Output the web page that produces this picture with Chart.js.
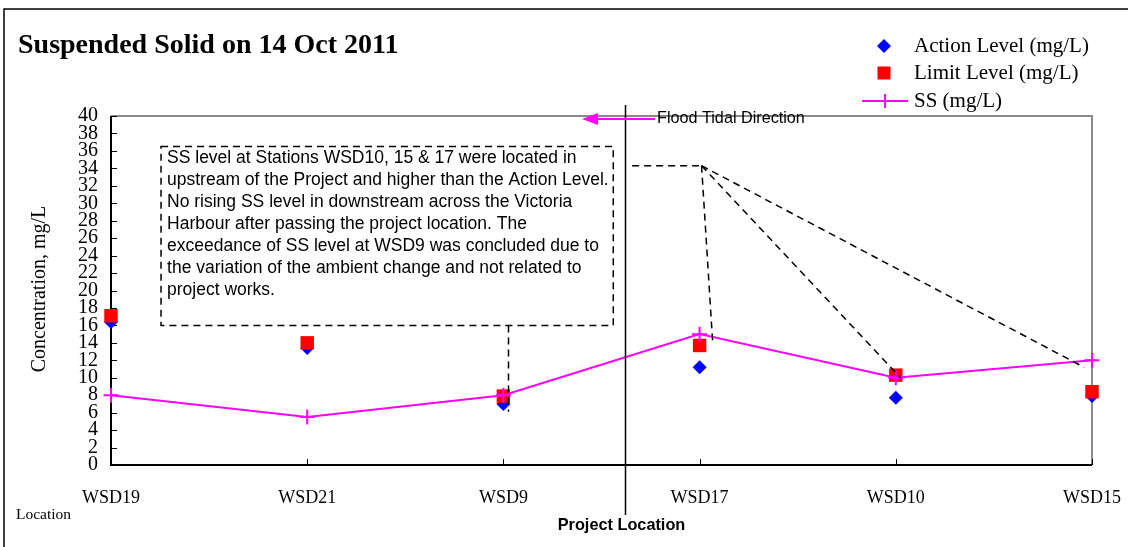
<!DOCTYPE html>
<html>
<head>
<meta charset="utf-8">
<script src="https://cdn.jsdelivr.net/npm/chart.js@4/dist/chart.umd.min.js"></script>
<style>
  html, body { margin: 0; padding: 0; background: #fff; }
  #wrap { width: 1128px; height: 547px; position: relative; }
</style>
</head>
<body>
<div id="wrap"><canvas id="c" width="1128" height="547"></canvas></div>
<script>
// ---- data ----
const categories = ['WSD19', 'WSD21', 'WSD9', 'WSD17', 'WSD10', 'WSD15'];
const actionLevel = [16.4, 13.4, 7.0, 11.2, 7.7, 7.9];
const limitLevel  = [17.1, 14.0, 7.9, 13.7, 10.3, 8.4];
const ssLevel     = [8.0, 5.5, 8.0, 15.0, 10.0, 12.0];
const yMin = 0, yMax = 40, yStep = 2;

const seriesNames = ['Action Level (mg/L)', 'Limit Level (mg/L)', 'SS (mg/L)'];
const titleText = 'Suspended Solid on 14 Oct 2011';
const yTitle = 'Concentration, mg/L';
const noteLines = [
  'SS level at Stations WSD10, 15 & 17 were located in',
  'upstream of the Project and higher than the Action Level.',
  'No rising SS level in downstream across the Victoria',
  'Harbour after passing the project location. The',
  'exceedance of SS level at WSD9 was concluded due to',
  'the variation of the ambient change and not related to',
  'project works.'
];

const BLUE = '#0000FF', RED = '#FF0000', MAG = '#FF00FF';
const SERIF = '"Liberation Serif", "Times New Roman", serif';
const SANS = '"Liberation Sans", Arial, sans-serif';

// annotation anchors in data units (category index, value)
const projectX = 2.62;
const noteBox = { x0: 0.255, x1: 2.56, yTop: 36.5, yBot: 16.0 };
const callWSD9 = { x: 2.026, yTop: 16.0, yBot: 6.1 };
const callHub = { x0: 2.656, x: 3.01, y: 34.3 };
const callTargets = [[3.066, 14.3], [4.026, 9.95], [4.96, 11.2]];

const overlay = {
  id: 'overlay',
  beforeDatasetsDraw(chart) {
    const ctx = chart.ctx, a = chart.chartArea;
    const xs = chart.scales.x, ys = chart.scales.y;
    ctx.save();
    // outer frame
    ctx.strokeStyle = '#000'; ctx.lineWidth = 1.5;
    ctx.beginPath(); ctx.moveTo(4, 547); ctx.lineTo(4, 9); ctx.lineTo(1128, 9); ctx.stroke();
    // plot frame top/right (gray)
    ctx.strokeStyle = '#8a8a8a'; ctx.lineWidth = 2;
    ctx.beginPath(); ctx.moveTo(a.left, a.top); ctx.lineTo(a.right, a.top); ctx.lineTo(a.right, a.bottom); ctx.stroke();
    // axes left/bottom (black)
    ctx.strokeStyle = '#000'; ctx.lineWidth = 2;
    ctx.beginPath(); ctx.moveTo(a.left, a.top); ctx.lineTo(a.left, a.bottom); ctx.lineTo(a.right, a.bottom); ctx.stroke();
    // inside ticks
    ctx.lineWidth = 1;
    ctx.beginPath();
    ys.ticks.forEach((t) => {
      const y = Math.round(ys.getPixelForValue(t.value)) + 0.5;
      ctx.moveTo(a.left, y); ctx.lineTo(a.left + 6, y);
    });
    xs.ticks.forEach((t, i) => {
      const x = Math.round(xs.getPixelForTick(i)) + 0.5;
      ctx.moveTo(x, a.bottom); ctx.lineTo(x, a.bottom - 6);
    });
    ctx.stroke();
    ctx.restore();
  },
  afterDatasetsDraw(chart) {
    const ctx = chart.ctx, a = chart.chartArea;
    const xs = chart.scales.x, ys = chart.scales.y;
    const X = (v) => xs.getPixelForValue(v), Y = (v) => ys.getPixelForValue(v);
    ctx.save();
    // dashed note box
    ctx.strokeStyle = '#000'; ctx.lineWidth = 1.5; ctx.setLineDash([7, 5]);
    const bx0 = X(noteBox.x0), bx1 = X(noteBox.x1), by0 = Y(noteBox.yTop), by1 = Y(noteBox.yBot);
    ctx.strokeRect(bx0, by0, bx1 - bx0, by1 - by0);
    // callout to WSD9
    ctx.beginPath(); ctx.moveTo(X(callWSD9.x), Y(callWSD9.yTop)); ctx.lineTo(X(callWSD9.x), Y(callWSD9.yBot)); ctx.stroke();
    // callouts to WSD17/10/15
    ctx.beginPath(); ctx.moveTo(X(callHub.x0), Y(callHub.y)); ctx.lineTo(X(callHub.x), Y(callHub.y)); ctx.stroke();
    callTargets.forEach(([tx, ty]) => {
      ctx.beginPath(); ctx.moveTo(X(callHub.x), Y(callHub.y)); ctx.lineTo(X(tx), Y(ty)); ctx.stroke();
    });
    ctx.setLineDash([]);
    // note text
    ctx.fillStyle = '#000'; ctx.font = '17.5px ' + SANS; ctx.textAlign = 'left'; ctx.textBaseline = 'middle';
    noteLines.forEach((l, i) => ctx.fillText(l, bx0 + 6, by0 + 12 + i * 22));
    // project location line
    const px = Math.round(X(projectX)) + 0.5;
    ctx.strokeStyle = '#000'; ctx.lineWidth = 1.5;
    ctx.beginPath(); ctx.moveTo(px, a.top - 11); ctx.lineTo(px, 515); ctx.stroke();
    ctx.font = 'bold 16.3px ' + SANS; ctx.textAlign = 'center';
    ctx.fillText('Project Location', px - 4, 526);
    // flood tidal direction arrow
    ctx.strokeStyle = MAG; ctx.fillStyle = MAG; ctx.lineWidth = 2;
    ctx.beginPath(); ctx.moveTo(655, a.top + 3); ctx.lineTo(594, a.top + 3); ctx.stroke();
    ctx.beginPath(); ctx.moveTo(582, a.top + 3); ctx.lineTo(598, a.top - 3); ctx.lineTo(598, a.top + 9); ctx.closePath(); ctx.fill();
    ctx.fillStyle = '#000'; ctx.font = '16.2px ' + SANS; ctx.textAlign = 'left';
    ctx.fillText('Flood Tidal Direction', 657, a.top + 3);
    ctx.restore();
  },
  afterDraw(chart) {
    const ctx = chart.ctx;
    ctx.save();
    ctx.fillStyle = '#000';
    // title
    ctx.font = 'bold 28px ' + SERIF; ctx.textAlign = 'left'; ctx.textBaseline = 'alphabetic';
    ctx.fillText(titleText, 18, 53);
    // y axis title
    ctx.save();
    ctx.translate(40, 289); ctx.rotate(-Math.PI / 2);
    ctx.font = '20px ' + SERIF; ctx.textAlign = 'center'; ctx.textBaseline = 'middle';
    ctx.fillText(yTitle, 0, 0);
    ctx.restore();
    // "Location"
    ctx.font = '15.5px ' + SERIF; ctx.textAlign = 'left'; ctx.textBaseline = 'middle';
    ctx.fillText('Location', 16, 515);
    // legend
    const lx = 884, rows = [46, 73, 101];
    ctx.fillStyle = BLUE;
    ctx.beginPath(); ctx.moveTo(lx - 7, rows[0]); ctx.lineTo(lx, rows[0] - 7); ctx.lineTo(lx + 7, rows[0]); ctx.lineTo(lx, rows[0] + 7); ctx.closePath(); ctx.fill();
    ctx.fillStyle = RED; ctx.fillRect(lx - 6.5, rows[1] - 6.5, 13, 13);
    ctx.strokeStyle = MAG; ctx.lineWidth = 2;
    ctx.beginPath(); ctx.moveTo(862, rows[2]); ctx.lineTo(908, rows[2]);
    ctx.moveTo(885, rows[2] - 7); ctx.lineTo(885, rows[2] + 7); ctx.stroke();
    ctx.fillStyle = '#000'; ctx.font = '21px ' + SERIF; ctx.textBaseline = 'middle';
    seriesNames.forEach((n, i) => ctx.fillText(n, 914, rows[i]));
    ctx.restore();
  }
};

new Chart(document.getElementById('c'), {
  type: 'line',
  data: {
    labels: categories,
    datasets: [
      { label: seriesNames[2], data: ssLevel, borderColor: MAG, backgroundColor: MAG, borderWidth: 2,
        pointStyle: 'cross', pointRadius: 7.5, pointBorderWidth: 2, pointBorderColor: MAG, tension: 0, order: 0, clip: false },
      { label: seriesNames[1], data: limitLevel, showLine: false, pointStyle: 'rect', pointRadius: 9.5,
        backgroundColor: RED, borderColor: RED, pointBorderWidth: 0, order: 1, clip: false },
      { label: seriesNames[0], data: actionLevel, showLine: false, pointStyle: 'rectRot', pointRadius: 7,
        backgroundColor: BLUE, borderColor: BLUE, pointBorderWidth: 0, order: 2, clip: false }
    ]
  },
  options: {
    responsive: false,
    animation: false,
    events: [],
    layout: { padding: { left: 0, top: 116, right: 36, bottom: 0 }, autoPadding: false },
    plugins: { legend: { display: false }, title: { display: false }, tooltip: { enabled: false } },
    scales: {
      x: {
        type: 'category', offset: false,
        grid: { display: false, drawTicks: false }, border: { display: false },
        ticks: { color: '#000', font: { family: SERIF, size: 18 }, padding: 22, maxRotation: 0, autoSkip: false },
        afterFit: (s) => { s.height = 82; s.paddingLeft = 0; s.paddingRight = 0; }
      },
      y: {
        min: yMin, max: yMax,
        grid: { display: false, drawTicks: false }, border: { display: false },
        ticks: { stepSize: yStep, color: '#000', font: { family: SERIF, size: 20 }, padding: 13, autoSkip: false },
        afterFit: (s) => { s.width = 111; s.paddingTop = 0; s.paddingBottom = 0; }
      }
    }
  },
  plugins: [overlay]
});
</script>
</body>
</html>
